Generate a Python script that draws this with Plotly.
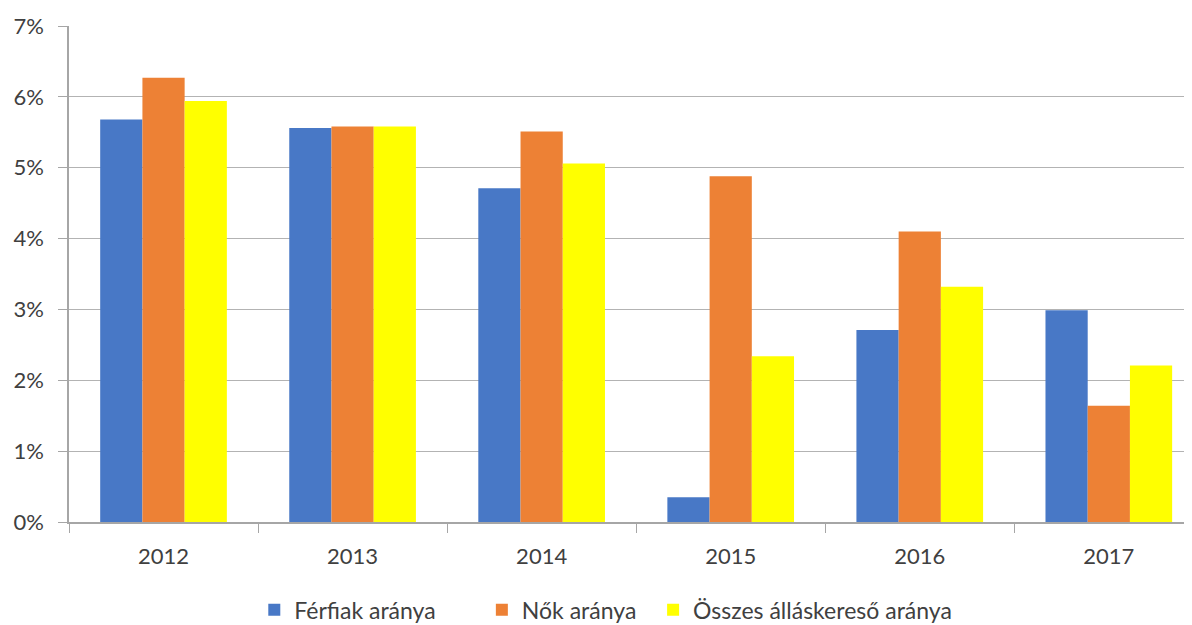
import plotly.graph_objects as go

years = ["2012", "2013", "2014", "2015", "2016", "2017"]
ferfiak = [5.68, 5.56, 4.71, 0.35, 2.71, 2.99]
nok = [6.27, 5.58, 5.51, 4.88, 4.10, 1.64]
osszes = [5.94, 5.58, 5.06, 2.34, 3.32, 2.21]
series_names = ["Férfiak aránya", "Nők aránya", "Összes álláskereső aránya"]
y_ticks = [0, 1, 2, 3, 4, 5, 6, 7]

font_family = "Lato, 'Open Sans', sans-serif"
colors = ["#4878C6", "#ED8135", "#FFFF00"]
pads = ["\u00a0" * 7, "\u00a0" * 2, ""]  # uneven gaps between legend entries, as in the original

fig = go.Figure()
for name, vals, color, pad in zip(series_names, [ferfiak, nok, osszes], colors, pads):
    fig.add_trace(go.Bar(name=name + pad, x=years, y=vals, marker_color=color, marker_line_width=0))

# the page body has an 8px margin, so the figure is sized to fit inside it
fig.update_layout(
    barmode="group",
    bargap=0.33,
    bargroupgap=0,
    width=1184,
    height=617,
    paper_bgcolor="white",
    plot_bgcolor="white",
    font=dict(family=font_family, size=22, color="#404040"),
    margin=dict(l=61, r=0, t=18, b=103, autoexpand=False),
    xaxis=dict(
        type="category",
        range=[-0.5, 5.44],
        automargin=False,
        tickson="boundaries",
        ticks="outside",
        ticklen=9,
        tickcolor="#A6A6A6",
        showline=True,
        linecolor="#A6A6A6",
        linewidth=1.5,
        showgrid=False,
        ticklabelstandoff=14,
        tickfont=dict(size=22, color="#404040"),
    ),
    yaxis=dict(
        range=[0, 7],
        automargin=False,
        tickvals=y_ticks,
        ticktext=[f"{v}%" for v in y_ticks],
        ticks="outside",
        ticklen=9,
        tickcolor="#A6A6A6",
        showline=True,
        linecolor="#A6A6A6",
        linewidth=1.5,
        showgrid=True,
        gridcolor="#B3B3B3",
        gridwidth=1.2,
        zeroline=False,
        ticklabelstandoff=10,
        tickfont=dict(size=22, color="#404040"),
    ),
    legend=dict(
        orientation="h",
        x=0.478,
        xanchor="center",
        y=-0.177,
        yanchor="middle",
        font=dict(size=23, color="#404040"),
        itemwidth=30,
    ),
)

fig.write_html("out.html")
